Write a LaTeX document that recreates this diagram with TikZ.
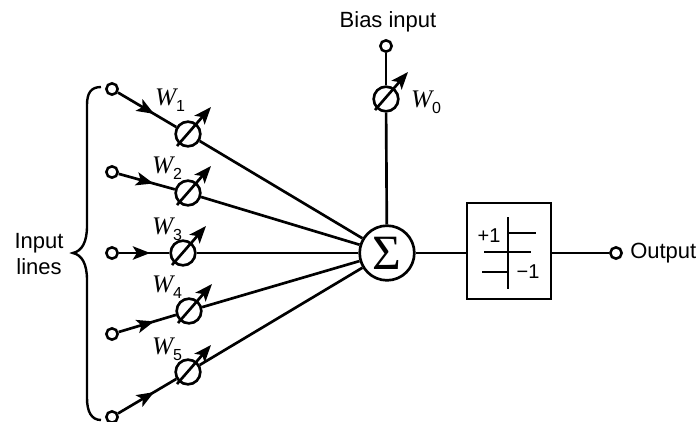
\documentclass[tikz,border=0pt]{standalone}
\usepackage{fontspec}
\setmainfont{Liberation Sans}
\newfontfamily\weightfont{Liberation Serif}
\usepackage{xcolor}
\usetikzlibrary{arrows.meta, decorations.markings}
\tikzset{
  wire/.style={line width=2pt},
  midarrow/.style={wire, decoration={markings, mark=at position 0.62 with {\arrow{Stealth[length=13pt,width=10pt,inset=3pt]}}}, postaction={decorate}},
  terminal/.style={circle, draw, line width=1.9pt, fill=white, inner sep=0pt, minimum size=8.5pt},
  weight/.style={circle, draw, wire, fill=white, inner sep=0pt, minimum size=18.5pt},
  adjust/.style={wire, -{Stealth[length=13pt,width=10pt,inset=3pt]}},
  label/.style={inner sep=0pt, font=\fontsize{16.5}{19.5}\selectfont},
  small/.style={inner sep=0pt, font=\fontsize{15}{17}\selectfont}
}
\newcommand{\wname}[1]{{\weightfont\itshape\fontsize{19}{20}\selectfont W}\raisebox{-4.5pt}{\fontsize{12}{13}\selectfont #1}}

\begin{document}
\begin{tikzpicture}[x=0.75pt, y=-0.75pt]
  \useasboundingbox (0,0) rectangle (699,421);

  \node[circle, draw, wire, fill=white, inner sep=0pt, minimum size=41pt] (sum) at (387,253) {\weightfont\fontsize{37}{38}\selectfont Σ};
  \node[draw, wire, inner sep=0pt, minimum width=63pt, minimum height=72pt] (limiter) at (509,251) {};
  \node[terminal] (out) at (616,253) {};
  \node[terminal] (bias) at (386,46) {};
  \node[weight] (w0) at (386,99) {};

  \foreach \n/\iy/\wx/\wy/\lx/\ly in {1/89/188/134/170/100, 2/172/188/193/167/168, 3/253/183/253/167/229, 4/334/189/311/167/287, 5/417/188/372/167/349}{
    \node[terminal] (in\n) at (112,\iy) {};
    \node[weight] (w\n) at (\wx,\wy) {};
    \draw[midarrow] (in\n) -- (w\n);
    \draw[wire] (w\n) -- (sum);
    \draw[adjust] (\wx-11,\wy+12) -- (\wx+23,\wy-27);
    \node[label] (lab\n) at (\lx,\ly) {\wname{\n}};
  }

  \draw[wire] (bias) -- (w0);
  \draw[wire] (w0) -- (sum);
  \draw[adjust] (375,110) -- (408,72);
  \node[label] (lab0) at (426,102) {\wname{0}};

  \draw[wire] (sum) -- (limiter.west |- sum);
  \draw[wire] (limiter.east |- out) -- (out);

  \draw[line width=1.8pt] (508,217) -- (508,289);
  \draw[line width=1.8pt] (508,233) -- (536,233);
  \draw[line width=1.8pt] (484,252) -- (531,252);
  \draw[line width=1.8pt] (482,272) -- (508,272);
  \node[small] (plus) at (489,236) {+1};
  \node[small] (minus) at (528,272) {−1};

  \draw[line width=1.8pt] (101,87) .. controls (91,87) and (87,93) .. (87,105) -- (87,226)
    .. controls (87,242) and (82,251) .. (73,253) .. controls (82,255) and (87,264) .. (87,280)
    -- (87,398) .. controls (87,411) and (91,420) .. (101,420);

  \node[label] (biaslabel) at (388,22) {Bias input};
  \node[label, anchor=west] (outlabel) at (630,253) {Output};
  \node[label, align=center] (inputs) at (39,254) {Input\\lines};
\end{tikzpicture}
\end{document}
